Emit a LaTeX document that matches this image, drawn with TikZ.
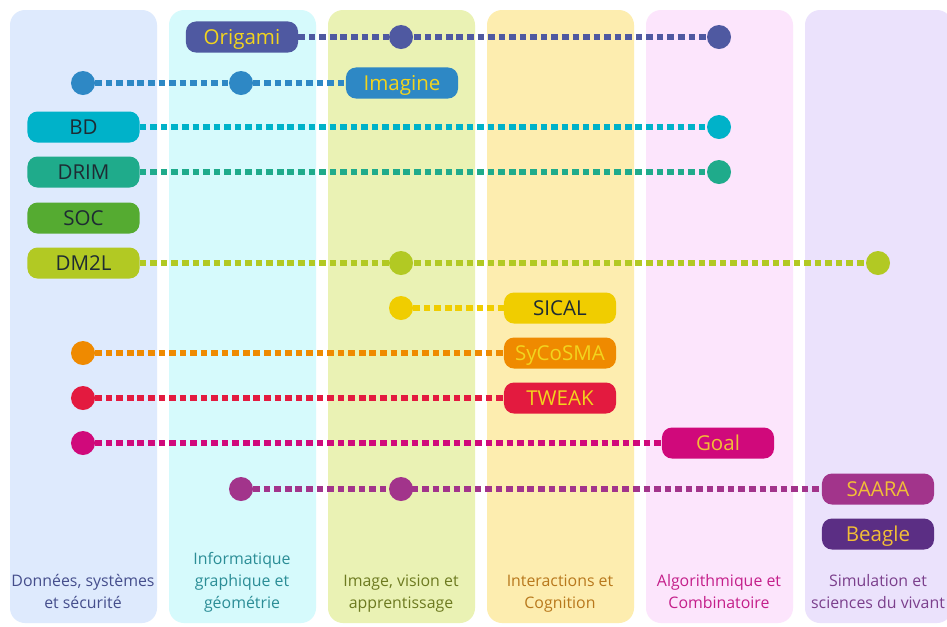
\documentclass[tikz,border=0pt]{standalone}
\usepackage{fontspec}
\setmainfont{Open Sans}
% column backgrounds and titles
\definecolor{bgdonnees}{HTML}{DEEAFD}
\definecolor{bginfo}{HTML}{D6FAFC}
\definecolor{bgimage}{HTML}{EAF2B4}
\definecolor{bginter}{HTML}{FDEDAF}
\definecolor{bgalgo}{HTML}{FCE5FC}
\definecolor{bgsimu}{HTML}{EBE2FC}
\definecolor{txdonnees}{HTML}{454E8C}
\definecolor{txinfo}{HTML}{2B8D96}
\definecolor{tximage}{HTML}{6D7A20}
\definecolor{txinter}{HTML}{B8781C}
\definecolor{txalgo}{HTML}{C41F8A}
\definecolor{txsimu}{HTML}{7B3F8C}
% teams
\definecolor{cOrigami}{HTML}{4F59A1}
\definecolor{cImagine}{HTML}{2E88C5}
\definecolor{cBD}{HTML}{00B2C9}
\definecolor{cDRIM}{HTML}{1FAB8B}
\definecolor{cSOC}{HTML}{55AB31}
\definecolor{cDMtwoL}{HTML}{B2C923}
\definecolor{cSICAL}{HTML}{F0CD00}
\definecolor{cSyCoSMA}{HTML}{EF8A00}
\definecolor{cTWEAK}{HTML}{E31A3F}
\definecolor{cGoal}{HTML}{D0097B}
\definecolor{cSAARA}{HTML}{A2348B}
\definecolor{cBeagle}{HTML}{5B2E84}
\definecolor{tdark}{HTML}{1E2B33}
\definecolor{tyellow}{HTML}{F2D41E}
\definecolor{tgold}{HTML}{F2BE36}
\begin{document}
\begin{tikzpicture}[x=0.025cm,y=-0.025cm,
  team/.style={rounded corners=0.25cm, minimum width=2.8cm, minimum height=0.775cm,
    inner sep=0pt, text height=10.4pt, text depth=0pt, font=\fontsize{14.6}{17}\selectfont},
  pin/.style={circle, minimum size=0.6cm, inner sep=0pt},
  link/.style={line width=4.6pt, dash pattern=on 4.7pt off 2.8pt},
  fieldname/.style={align=center, anchor=south, inner sep=0pt,
    execute at end node=\strut, font=\fontsize{11.3}{15.6}\selectfont}]
\clip (0,0) rectangle (947,626);
\fill[white] (0,0) rectangle (947,626);
% columns
\fill[bgdonnees, rounded corners=0.375cm] (10,10) rectangle (157,623);
\fill[bginfo, rounded corners=0.375cm] (169,10) rectangle (316,623);
\fill[bgimage, rounded corners=0.375cm] (328,10) rectangle (475,623);
\fill[bginter, rounded corners=0.375cm] (487,10) rectangle (634,623);
\fill[bgalgo, rounded corners=0.375cm] (646,10) rectangle (793,623);
\fill[bgsimu, rounded corners=0.375cm] (805,10) rectangle (952,623);
\node (donnees) at (83,615) [fieldname, text=txdonnees] {Données, systèmes\\et sécurité};
\node (info) at (242,615) [fieldname, text=txinfo] {Informatique\\graphique et\\géométrie};
\node (image) at (401,615) [fieldname, text=tximage] {Image, vision et\\apprentissage};
\node (inter) at (560,615) [fieldname, text=txinter] {Interactions et\\Cognition};
\node (algo) at (719,615) [fieldname, text=txalgo] {Algorithmique et\\Combinatoire};
\node (simu) at (878,615) [fieldname, text=txsimu] {Simulation et\\sciences du vivant};
% teams
\node (origami) at (242,37) [team, fill=cOrigami, text=tyellow] {Origami};
\node (origami1) at (401,37) [pin, fill=cOrigami] {};
\node (origami2) at (719,37) [pin, fill=cOrigami] {};
\draw[link, cOrigami] (origami) -- (origami2);
\node (imagine) at (402,83) [team, fill=cImagine, text=tyellow] {Imagine};
\node (imagine1) at (83,83) [pin, fill=cImagine] {};
\node (imagine2) at (241,83) [pin, fill=cImagine] {};
\draw[link, cImagine] (imagine1) -- (imagine);
\node (bd) at (83.5,127) [team, fill=cBD, text=tdark] {BD};
\node (bd1) at (719,127) [pin, fill=cBD] {};
\draw[link, cBD] (bd) -- (bd1);
\node (drim) at (83.5,172) [team, fill=cDRIM, text=tdark] {DRIM};
\node (drim1) at (719,172) [pin, fill=cDRIM] {};
\draw[link, cDRIM] (drim) -- (drim1);
\node (soc) at (83.5,218) [team, fill=cSOC, text=tdark] {SOC};
\node (dmtwol) at (83.5,263) [team, fill=cDMtwoL, text=tdark] {DM2L};
\node (dmtwol1) at (401,263) [pin, fill=cDMtwoL] {};
\node (dmtwol2) at (878,263) [pin, fill=cDMtwoL] {};
\draw[link, cDMtwoL] (dmtwol) -- (dmtwol2);
\node (sical) at (560,308) [team, fill=cSICAL, text=tdark] {SICAL};
\node (sical1) at (401,308) [pin, fill=cSICAL] {};
\draw[link, cSICAL] (sical1) -- (sical);
\node (sycosma) at (560,353) [team, fill=cSyCoSMA, text=tyellow] {SyCoSMA};
\node (sycosma1) at (83,353) [pin, fill=cSyCoSMA] {};
\draw[link, cSyCoSMA] (sycosma1) -- (sycosma);
\node (tweak) at (560,398) [team, fill=cTWEAK, text=tyellow] {TWEAK};
\node (tweak1) at (83,398) [pin, fill=cTWEAK] {};
\draw[link, cTWEAK] (tweak1) -- (tweak);
\node (goal) at (718,443) [team, fill=cGoal, text=tgold] {Goal};
\node (goal1) at (83,443) [pin, fill=cGoal] {};
\draw[link, cGoal] (goal1) -- (goal);
\node (saara) at (878,489) [team, fill=cSAARA, text=tgold] {SAARA};
\node (saara1) at (241,489) [pin, fill=cSAARA] {};
\node (saara2) at (401,489) [pin, fill=cSAARA] {};
\draw[link, cSAARA] (saara1) -- (saara);
\node (beagle) at (878,534) [team, fill=cBeagle, text=tgold] {Beagle};
\end{tikzpicture}
\end{document}
